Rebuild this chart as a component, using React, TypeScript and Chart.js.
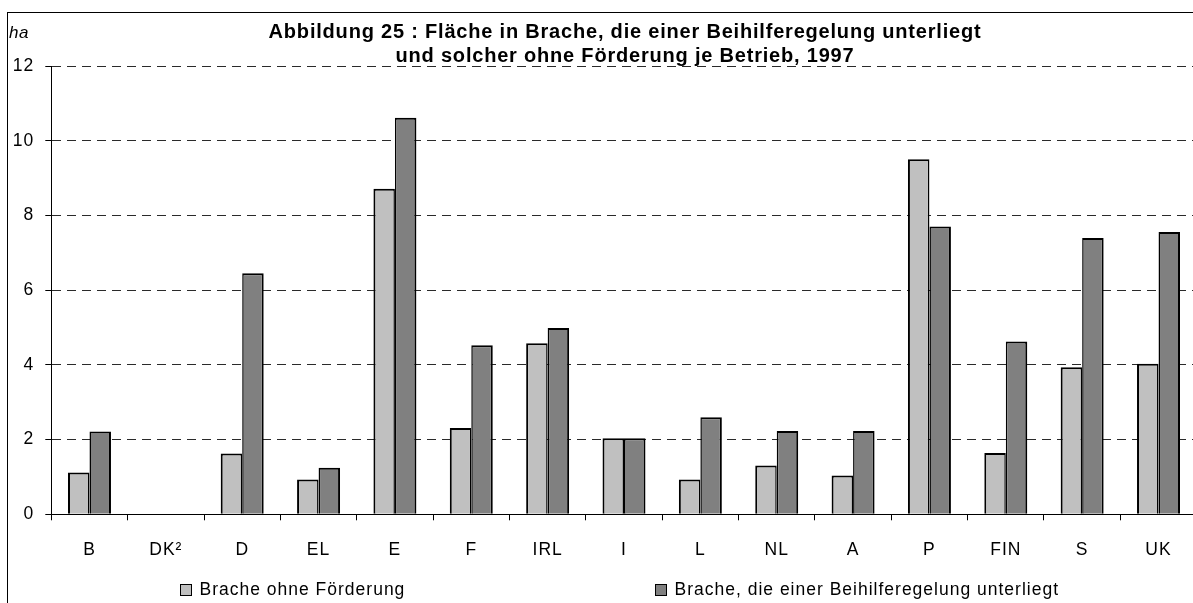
import React, { useEffect, useRef } from 'react';
import { Chart, registerables } from 'chart.js';

Chart.register(...registerables);

// ---- data ----
const categories = ['B', 'DK²', 'D', 'EL', 'E', 'F', 'IRL', 'I', 'L', 'NL', 'A', 'P', 'FIN', 'S', 'UK'];
const bracheOhneFoerderung = [1.12, null, 1.63, 0.93, 8.72, 2.31, 4.58, 2.04, 0.93, 1.31, 1.04, 9.51, 1.64, 3.94, 4.03];
const bracheBeihilfe = [2.22, null, 6.46, 1.25, 10.62, 4.53, 4.99, 2.04, 2.6, 2.23, 2.23, 7.71, 4.63, 7.4, 7.56];
const yTickValues = [0, 2, 4, 6, 8, 10, 12];
const seriesLabels = ['Brache ohne Förderung', 'Brache, die einer Beihilferegelung unterliegt'];
const titleLines = [
  'Abbildung 25 : Fläche in Brache, die einer Beihilferegelung unterliegt',
  'und solcher ohne Förderung je Betrieb, 1997',
];
const unitLabel = 'ha';

// ---- style ----
const FONT = '"Liberation Sans", Arial, Helvetica, sans-serif';
const LIGHT = '#c0c0c0';
const DARK = '#808080';
const CANVAS_W = 1240;
const CANVAS_H = 603;

const decorPlugin = {
  id: 'decor',
  beforeUpdate(chart: any) {
    chart.ctx.letterSpacing = '1px';
  },
  afterDraw(chart: any) {
    const ctx = chart.ctx as CanvasRenderingContext2D;
    // title
    ctx.save();
    ctx.fillStyle = '#000';
    ctx.font = `bold 20px ${FONT}`;
    (ctx as any).letterSpacing = '0.8px';
    ctx.textAlign = 'center';
    ctx.textBaseline = 'alphabetic';
    ctx.fillText(titleLines[0], 625, 38);
    ctx.fillText(titleLines[1], 625, 62);
    ctx.restore();

    // unit label
    ctx.save();
    ctx.fillStyle = '#000';
    ctx.font = `italic 17px ${FONT}`;
    (ctx as any).letterSpacing = '0.5px';
    ctx.textAlign = 'left';
    ctx.textBaseline = 'alphabetic';
    ctx.fillText(unitLabel, 9, 38);
    ctx.restore();

    // legend
    const boxX = [180, 655];
    chart.data.datasets.forEach((ds: any, i: number) => {
      ctx.save();
      ctx.fillStyle = ds.backgroundColor;
      ctx.fillRect(boxX[i], 584.5, 11, 11);
      ctx.strokeStyle = '#000';
      ctx.lineWidth = 1;
      ctx.strokeRect(boxX[i] + 0.5, 584.5, 11, 11);
      ctx.fillStyle = '#000';
      ctx.font = `17.5px ${FONT}`;
      (ctx as any).letterSpacing = '1px';
      ctx.textAlign = 'left';
      ctx.textBaseline = 'middle';
      ctx.fillText(ds.label, boxX[i] + 19.5, 590.5);
      ctx.restore();
    });
  },
};

export default function App() {
  const canvasRef = useRef<HTMLCanvasElement | null>(null);

  useEffect(() => {
    const canvas = canvasRef.current;
    if (!canvas) return;
    const chart = new Chart(canvas, {
      type: 'bar',
      data: {
        labels: categories,
        datasets: [
          {
            label: seriesLabels[0],
            data: bracheOhneFoerderung,
            backgroundColor: LIGHT,
            borderColor: '#000',
            borderWidth: { top: 2, left: 2, right: 1.5, bottom: 0 },
            categoryPercentage: 0.563,
            barPercentage: 1.0,
          },
          {
            label: seriesLabels[1],
            data: bracheBeihilfe,
            backgroundColor: DARK,
            borderColor: '#000',
            borderWidth: { top: 2, left: 1.5, right: 2, bottom: 0 },
            categoryPercentage: 0.563,
            barPercentage: 1.0,
          },
        ],
      },
      options: {
        responsive: false,
        animation: false,
        devicePixelRatio: 1,
        layout: { padding: { left: 0, right: 43.3, top: 66.3, bottom: 0 } },
        plugins: {
          legend: { display: false },
          title: { display: false },
          tooltip: { enabled: false },
        },
        scales: {
          x: {
            type: 'category',
            offset: true,
            grid: {
              offset: true,
              drawOnChartArea: false,
              drawTicks: true,
              tickLength: 6,
              color: '#000',
              lineWidth: 1,
            },
            border: { display: true, color: '#000', width: 1 },
            ticks: {
              color: '#000',
              font: { family: FONT, size: 17.5 },
              padding: 19,
              maxRotation: 0,
              autoSkip: false,
            },
            afterFit: (s: any) => {
              s.height = 88.7;
            },
          },
          y: {
            min: 0,
            max: 12,
            afterBuildTicks: (s: any) => {
              s.ticks = yTickValues.map((v) => ({ value: v }));
            },
            ticks: {
              color: '#000',
              font: { family: FONT, size: 17.5 },
              padding: 11,
            },
            grid: {
              color: '#2a2a2a',
              lineWidth: 1,
              drawTicks: true,
              tickLength: 6,
              tickColor: '#000',
              tickBorderDash: [],
            },
            border: { display: true, color: '#000', width: 1, dash: [9, 6] },
            afterFit: (s: any) => {
              s.width = 51.3;
            },
          },
        },
      },
      plugins: [decorPlugin],
    } as any);
    return () => chart.destroy();
  }, []);

  return (
    <div
      style={{
        position: 'fixed',
        left: 0,
        top: 0,
        width: 1193,
        height: 603,
        overflow: 'hidden',
        background: '#fff',
      }}
    >
      <div
        style={{
          position: 'absolute',
          left: 7,
          top: 12,
          width: 1300,
          height: 700,
          border: '1px solid #000',
          boxSizing: 'border-box',
        }}
      />
      <canvas
        ref={canvasRef}
        width={CANVAS_W}
        height={CANVAS_H}
        style={{ position: 'absolute', left: 0, top: 0, width: CANVAS_W, height: CANVAS_H }}
      />
    </div>
  );
}
